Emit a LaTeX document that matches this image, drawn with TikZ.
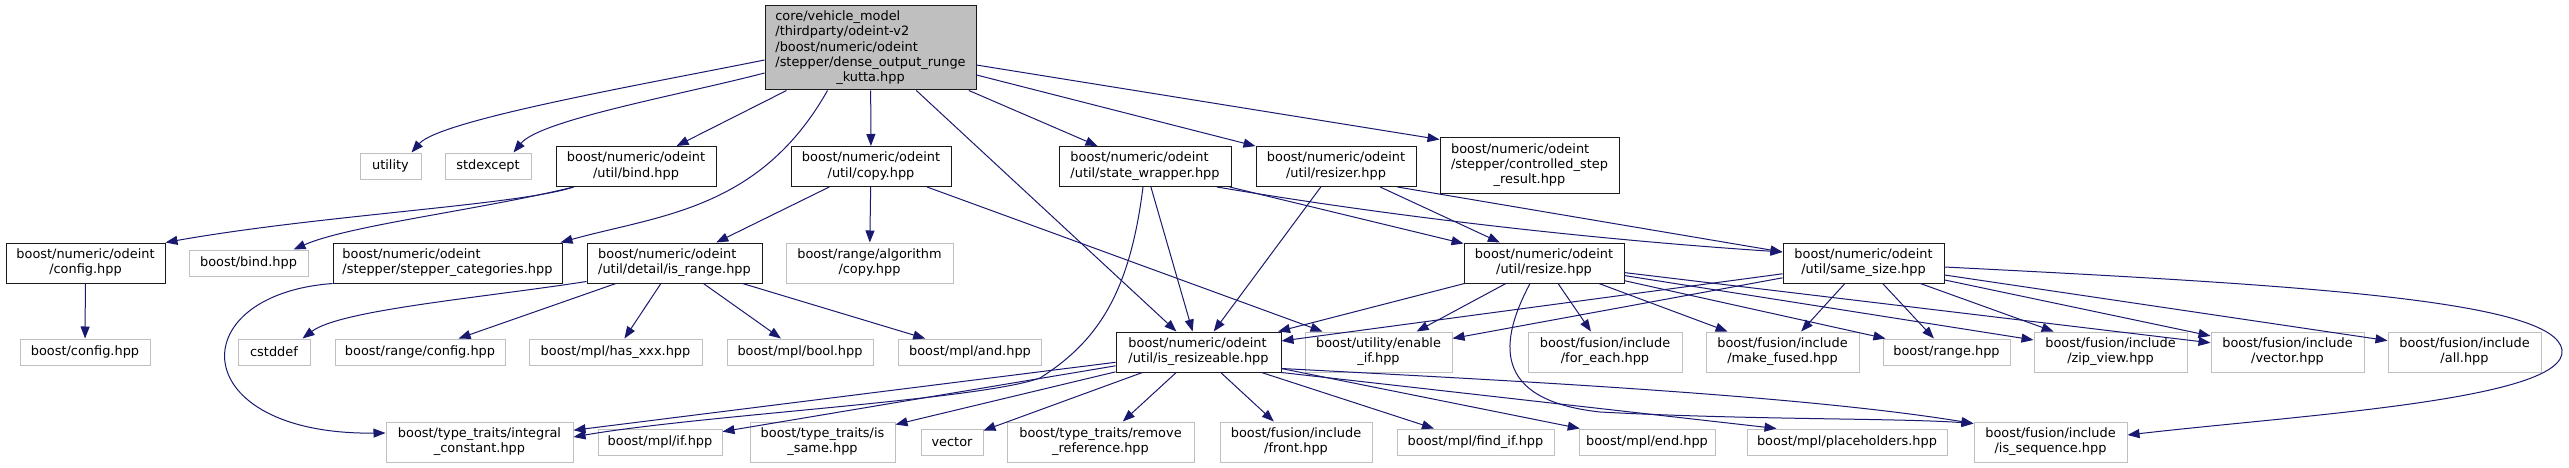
\documentclass[tikz,border=0pt]{standalone}
\usepackage{fontspec}
\setmainfont{DejaVu Sans}
\usetikzlibrary{arrows.meta}
\definecolor{edgec}{HTML}{191970}
\definecolor{grayc}{HTML}{BFBFBF}
\definecolor{boxc}{HTML}{1A1A1A}
\newcommand\lblfont{\fontsize{12.9}{15.3}\selectfont}
\newcommand\ml[2]{\begin{tabular}{@{}l@{}}#1\\\multicolumn{1}{@{}c@{}}{#2}\end{tabular}}
\tikzset{
  sz/.style 2 args={minimum width=#1,minimum height=#2},
  base/.style={rectangle,inner xsep=3pt,inner ysep=0pt,font=\lblfont,line width=1pt,fill=white},
  blk/.style={base,draw=boxc},
  gry/.style={base,draw=grayc},
  rootbox/.style={base,draw=boxc,fill=grayc},
  edge/.style={draw=edgec,line width=1pt,-{Triangle[length=12pt,width=9pt]}}
}
\begin{document}
\begin{tikzpicture}[x=1pt,y=-1pt]
\fill[white] (0,0) rectangle (2569,468);
\useasboundingbox (0,0) rectangle (2569,468);
% row 0
\node[rootbox,sz={211}{84}] (root) at (870.5,48) {\ml{core/vehicle\_model\\/thirdparty/odeint-v2\\/boost/numeric/odeint\\/stepper/dense\_output\_runge}{\_kutta.hpp}};
% row 1
\node[gry,sz={61}{26}] (utility) at (390.5,166) {utility};
\node[gry,sz={86}{26}] (stdexcept) at (488,166) {stdexcept};
\node[blk,sz={160}{40}] (bind) at (636,166.5) {\ml{boost/numeric/odeint}{/util/bind.hpp}};
\node[blk,sz={160}{40}] (copy) at (871,166.5) {\ml{boost/numeric/odeint}{/util/copy.hpp}};
\node[blk,sz={172}{40}] (stw) at (1145,166.5) {\ml{boost/numeric/odeint}{/util/state\_wrapper.hpp}};
\node[blk,sz={160}{40}] (resizer) at (1336,166.5) {\ml{boost/numeric/odeint}{/util/resizer.hpp}};
\node[blk,sz={179}{55}] (csr) at (1529.5,165.5) {\ml{boost/numeric/odeint\\/stepper/controlled\_step}{\_result.hpp}};
% row 2
\node[blk,sz={159}{40}] (config) at (85.5,263) {\ml{boost/numeric/odeint}{/config.hpp}};
\node[gry,sz={119}{26}] (bindh) at (248.5,263) {boost/bind.hpp};
\node[blk,sz={229}{40}] (stc) at (447.5,263) {\ml{boost/numeric/odeint}{/stepper/stepper\_categories.hpp}};
\node[blk,sz={175}{40}] (isr) at (674.5,263) {\ml{boost/numeric/odeint}{/util/detail/is\_range.hpp}};
\node[gry,sz={167}{40}] (rac) at (869.5,263) {\ml{boost/range/algorithm}{/copy.hpp}};
\node[blk,sz={160}{40}] (resize) at (1544,263) {\ml{boost/numeric/odeint}{/util/resize.hpp}};
\node[blk,sz={161}{40}] (ss) at (1863.5,263) {\ml{boost/numeric/odeint}{/util/same\_size.hpp}};
% row 3
\node[gry,sz={130}{26}] (bcfg) at (85,352) {boost/config.hpp};
\node[gry,sz={72}{26}] (cstddef) at (274,352) {cstddef};
\node[gry,sz={170}{26}] (rcfg) at (420,352) {boost/range/config.hpp};
\node[gry,sz={173}{26}] (hasxxx) at (615.5,352) {boost/mpl/has\_xxx.hpp};
\node[gry,sz={146}{26}] (mbool) at (800,352) {boost/mpl/bool.hpp};
\node[gry,sz={143}{26}] (mand) at (970,352) {boost/mpl/and.hpp};
\node[blk,sz={165}{40}] (isz) at (1198.5,352) {\ml{boost/numeric/odeint}{/util/is\_resizeable.hpp}};
\node[gry,sz={147}{40}] (eif) at (1378.5,352) {\ml{boost/utility/enable}{\_if.hpp}};
\node[gry,sz={154}{40}] (foreach) at (1605,352) {\ml{boost/fusion/include}{/for\_each.hpp}};
\node[gry,sz={153}{40}] (mkf) at (1782.5,352) {\ml{boost/fusion/include}{/make\_fused.hpp}};
\node[gry,sz={127}{26}] (rng) at (1946.5,352) {boost/range.hpp};
\node[gry,sz={153}{40}] (zip) at (2110.5,352) {\ml{boost/fusion/include}{/zip\_view.hpp}};
\node[gry,sz={153}{40}] (fvec) at (2287.5,352) {\ml{boost/fusion/include}{/vector.hpp}};
\node[gry,sz={153}{40}] (fall) at (2464.5,352) {\ml{boost/fusion/include}{/all.hpp}};
% row 4
\node[gry,sz={187}{40}] (ic) at (479.5,442) {\ml{boost/type\_traits/integral}{\_constant.hpp}};
\node[gry,sz={124}{26}] (mif) at (660,442) {boost/mpl/if.hpp};
\node[gry,sz={145}{40}] (issame) at (822.5,442) {\ml{boost/type\_traits/is}{\_same.hpp}};
\node[gry,sz={62}{26}] (vec) at (952,442) {vector};
\node[gry,sz={187}{40}] (rref) at (1100.5,442) {\ml{boost/type\_traits/remove}{\_reference.hpp}};
\node[gry,sz={152}{40}] (front) at (1296,442) {\ml{boost/fusion/include}{/front.hpp}};
\node[gry,sz={157}{26}] (findif) at (1475.5,442) {boost/mpl/find\_if.hpp};
\node[gry,sz={136}{26}] (mend) at (1647,442) {boost/mpl/end.hpp};
\node[gry,sz={200}{26}] (ph) at (1847,442) {boost/mpl/placeholders.hpp};
\node[gry,sz={153}{40}] (isseq) at (2050.5,442) {\ml{boost/fusion/include}{/is\_sequence.hpp}};
% edges from root
\draw[edge] ([yshift=-12pt]root.west) .. controls (640,85) and (440,120) .. ([xshift=-10pt]utility.north east);
\draw[edge] ([yshift=-25pt]root.west) .. controls (680,95) and (540,120) .. ([xshift=-18pt]stdexcept.north east);
\draw[edge] (root) -- (bind);
\draw[edge] ([xshift=-43pt]root.south) .. controls (760,210) and (660,215) .. ([xshift=-2pt]stc.north east);
\draw[edge] (root) -- (copy);
\draw[edge] (root) -- (isz);
\draw[edge] (root) -- (stw);
\draw[edge] (root) -- (resizer);
\draw[edge] (root) -- ([yshift=-2pt]csr.north west);
% bind
\draw[edge] ([xshift=18pt]bind.south west) .. controls (520,205) and (320,215) .. (config.north east);
\draw[edge] ([xshift=18pt]bind.south west) .. controls (480,210) and (350,225) .. ([xshift=-15pt]bindh.north east);
% copy
\draw[edge] (copy) -- (isr);
\draw[edge] (copy) -- (rac);
\draw[edge] (copy) -- (eif);
% stepper categories
\draw[edge] (stc.south west) .. controls (180,295) and (185,435) .. ([yshift=9pt]ic.west);
% is_range
\draw[edge] ([yshift=2pt]isr.south west) .. controls (480,298) and (340,310) .. ([xshift=-8pt]cstddef.north east);
\draw[edge] (isr) -- (rcfg);
\draw[edge] (isr) -- (hasxxx);
\draw[edge] (isr) -- (mbool);
\draw[edge] (isr) -- (mand);
% config
\draw[edge] (config) -- (bcfg);
% state_wrapper
\draw[edge] ([xshift=-2pt]stw.south) .. controls (1130,290) and (1100,340) .. (1040,378) .. controls (980,400) and (700,415) .. ([yshift=5pt]ic.east);
\draw[edge] (stw) -- (isz);
\draw[edge] (stw) -- (resize);
\draw[edge] ([xshift=72pt]stw.south) .. controls (1400,218) and (1600,240) .. ([yshift=11pt]ss.west);
% resizer
\draw[edge] (resizer) -- (isz);
\draw[edge] (resizer) -- (resize);
\draw[edge] ([xshift=-19pt]resizer.south east) -- ([yshift=11pt]ss.west);
% resize
\draw[edge] (resize) -- (isz);
\draw[edge] (resize) -- (eif);
\draw[edge] (resize) -- (foreach);
\draw[edge] (resize) -- (mkf);
\draw[edge] (resize) -- (rng);
\draw[edge] (resize) -- (zip);
\draw[edge] (resize) -- (fvec);
\draw[edge] ([xshift=-14pt]resize.south) .. controls (1500,340) and (1490,400) .. (1600,412) .. controls (1750,420) and (1900,418) .. ([yshift=-2pt]isseq.north west);
% same_size
\draw[edge] (ss) -- (isz);
\draw[edge] (ss) -- (eif);
\draw[edge] (ss) -- (mkf);
\draw[edge] (ss) -- (rng);
\draw[edge] (ss) -- (zip);
\draw[edge] (ss) -- (fvec);
\draw[edge] (ss) -- (fall);
\draw[edge] ([yshift=-4pt]ss.east) .. controls (2300,285) and (2555,300) .. (2562,350) .. controls (2568,400) and (2300,415) .. ([yshift=7pt]isseq.east);
% is_resizeable
\draw[edge] (isz) -- (ic);
\draw[edge] (isz) -- (mif);
\draw[edge] (isz) -- (issame);
\draw[edge] (isz) -- (vec);
\draw[edge] (isz) -- (rref);
\draw[edge] (isz) -- (front);
\draw[edge] (isz) -- (findif);
\draw[edge] (isz) -- (mend);
\draw[edge] (isz.south east) -- ([xshift=30pt]ph.north west);
\draw[edge] ([yshift=4pt]isz.south east) .. controls (1500,380) and (1800,395) .. ([yshift=-2pt]isseq.north west);
\end{tikzpicture}
\end{document}
